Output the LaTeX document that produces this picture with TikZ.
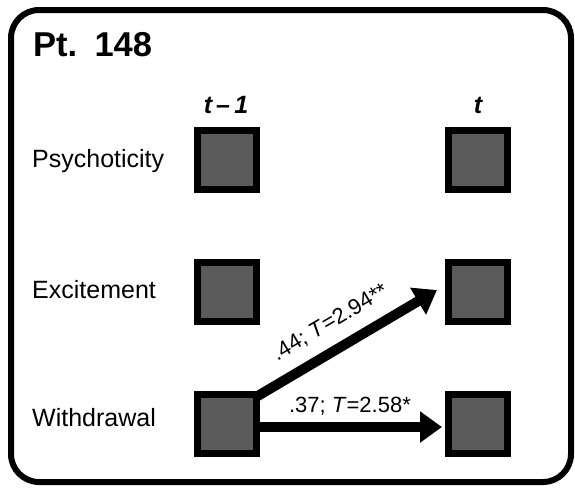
\documentclass[tikz,border=0pt]{standalone}
\usepackage{fontspec}
\setmainfont{Liberation Sans}
\usetikzlibrary{arrows.meta}
\definecolor{boxgray}{HTML}{5A5A5A}
\begin{document}
\begin{tikzpicture}[x=1pt,y=-1pt,
  varbox/.style={draw=black, fill=boxgray, line width=7pt, minimum size=59pt, inner sep=0pt, outer sep=0pt},
  rowlabel/.style={anchor=base west, inner sep=0pt, font=\fontsize{25}{30}\selectfont},
  timelabel/.style={anchor=base, inner sep=0pt, font=\fontsize{25}{30}\selectfont\bfseries\itshape},
  effect/.style={line width=10pt, -{Triangle[length=22pt,width=30pt]}},
  efflabel/.style={anchor=south, text depth=0pt, inner xsep=0pt, font=\fontsize{22}{26}\selectfont}
]
\useasboundingbox (0,0) rectangle (575,488);
\draw[line width=6pt, rounded corners=28pt] (11,10) rectangle (571,482);
\node[anchor=base west, inner sep=0pt, font=\fontsize{34.5}{40}\selectfont\bfseries] (title) at (33,56) {Pt.\hspace{0.5em}148};

\node[timelabel] (tA) at (226,113) {t\,–\,1};
\node[timelabel] (tB) at (478,113) {t};

\node[rowlabel] (lP) at (32,167) {Psychoticity};
\node[rowlabel] (lE) at (32,298) {Excitement};
\node[rowlabel] (lW) at (32,426) {Withdrawal};

\node[varbox] (pA) at (226.5,159.5) {};
\node[varbox] (pB) at (478,159.5) {};
\node[varbox] (eA) at (226.5,291.5) {};
\node[varbox] (eB) at (478,291.5) {};
\node[varbox] (wA) at (226.5,423.5) {};
\node[varbox] (wB) at (478,423.5) {};

\draw[effect, shorten >=13.4pt] ([yshift=-3pt]wA.north east) -- ([yshift=8.3pt]eB.west)
  node[efflabel, sloped, pos=0.455, inner ysep=15pt] (lab1) {.44; \textit{T}=2.94**};
\draw[effect, shorten >=6.5pt] ([yshift=-3.5pt]wA.east) -- ([yshift=-3.5pt]wB.west)
  node[efflabel, pos=0.488, inner ysep=10pt] (lab2) {.37; \textit{T}=2.58*};
\end{tikzpicture}
\end{document}
